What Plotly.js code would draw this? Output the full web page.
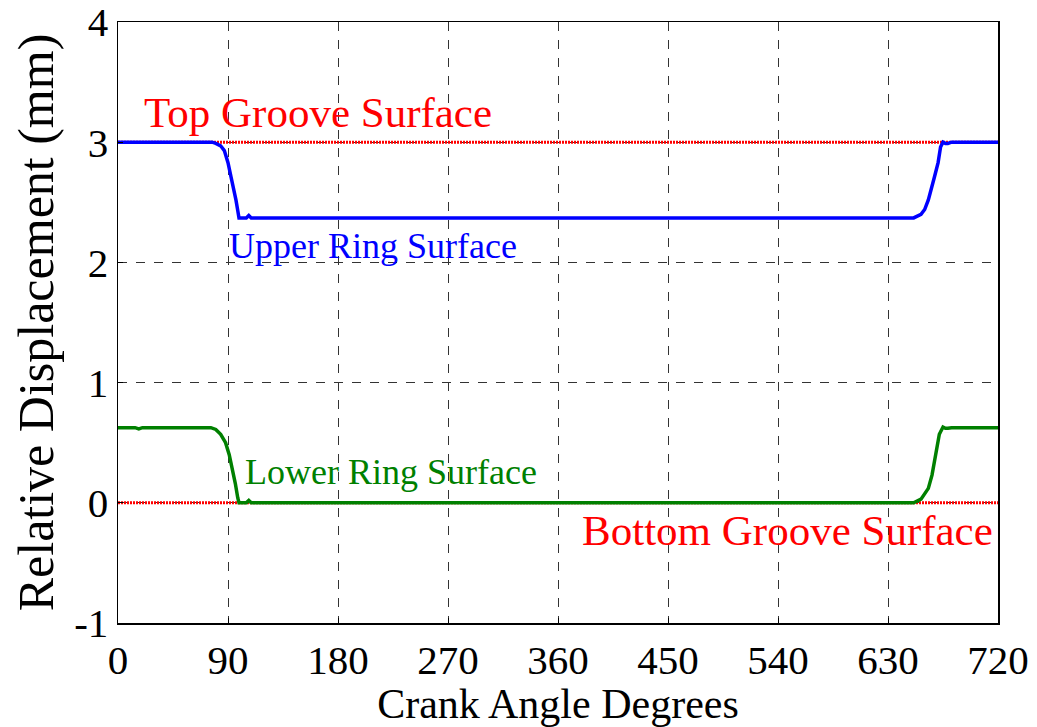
<!DOCTYPE html>
<html><head><meta charset="utf-8">
<script src="https://cdn.plot.ly/plotly-3.0.1.min.js"></script>
<style>body{margin:0;background:#fff}#c{width:1037px;height:727px}</style>
</head><body><div id="c"></div>
<script>
var grooveX = [0, 720];
var topGroove = [3, 3];
var bottomGroove = [0, 0];

var upperX = [0, 77, 80, 84, 87, 90, 92.5, 95, 96.5, 98, 99, 102, 105, 107, 109, 112, 640, 651, 657, 660, 663, 666, 668, 671, 673, 675, 677, 679, 682, 720];
var upperY = [3.0, 3.0, 2.99, 2.97, 2.93, 2.83, 2.71, 2.6, 2.52, 2.43, 2.37, 2.37, 2.37, 2.39, 2.37, 2.37, 2.37, 2.37, 2.4, 2.44, 2.52, 2.62, 2.71, 2.83, 2.96, 3.0, 2.99, 2.99, 3.0, 3.0];

var lowerX = [0, 14, 17, 20, 76, 80, 84, 88, 91, 94, 96, 98, 99, 102, 105, 107, 109, 112, 640, 651, 657, 660, 663, 666, 668, 670, 672, 675, 677, 679, 682, 720];
var lowerY = [0.625, 0.625, 0.615, 0.625, 0.625, 0.61, 0.57, 0.5, 0.4, 0.27, 0.16, 0.04, 0.0, 0.0, 0.0, 0.02, 0.0, 0.0, 0.0, 0.0, 0.03, 0.07, 0.12, 0.23, 0.35, 0.46, 0.57, 0.63, 0.62, 0.62, 0.625, 0.625];

var xTicks = [0, 90, 180, 270, 360, 450, 540, 630, 720];
var yTicks = [-1, 0, 1, 2, 3, 4];
var yTickText = ['-1', '0', '1', '2', '3', '4'];

var labels = [
  {text: 'Top Groove Surface', x: 20, y: 3.25, color: 'red', size: 43},
  {text: 'Upper Ring Surface', x: 89, y: 2.14, color: 'blue', size: 36},
  {text: 'Lower Ring Surface', x: 102, y: 0.26, color: 'green', size: 36},
  {text: 'Bottom Groove Surface', x: 378, y: -0.23, color: 'red', size: 43}
];

var font = 'Liberation Serif, Times New Roman, serif';
var traces = [
  {x: grooveX, y: topGroove, mode: 'lines', line: {color: 'red', width: 3, dash: '2px,1px'}},
  {x: grooveX, y: bottomGroove, mode: 'lines', line: {color: 'red', width: 3, dash: '2px,1px'}},
  {x: upperX, y: upperY, mode: 'lines', line: {color: 'blue', width: 3.5}},
  {x: lowerX, y: lowerY, mode: 'lines', line: {color: 'green', width: 3.5}}
];
var axisCommon = {
  showgrid: true, gridcolor: '#333', griddash: 'dash', gridwidth: 1,
  showline: true, linecolor: 'black', linewidth: 1.5, mirror: true,
  ticks: 'inside', ticklen: 5, tickcolor: 'black',
  ticklabeloverflow: 'allow',
  zeroline: false, tickfont: {family: font, size: 41, color: 'black'}
};
var layout = {
  width: 1037, height: 727,
  margin: {l: 118, r: 39, t: 22, b: 104},
  paper_bgcolor: 'white', plot_bgcolor: 'white',
  showlegend: false,
  font: {family: font, color: 'black'},
  xaxis: Object.assign({}, axisCommon, {
    range: [0, 720], tickmode: 'array', tickvals: xTicks, ticktext: xTicks.map(String),
    title: {text: 'Crank Angle Degrees', font: {family: font, size: 42}, standoff: 2}
  }),
  yaxis: Object.assign({}, axisCommon, {
    range: [-1, 4], tickmode: 'array', tickvals: yTicks, ticktext: yTickText,
    title: {text: 'Relative Displacement (mm)', font: {family: font, size: 50}, standoff: 4}
  }),
  annotations: labels.map(function (l) {
    return {text: l.text, x: l.x, y: l.y, xref: 'x', yref: 'y', showarrow: false,
      xanchor: 'left', yanchor: 'middle', font: {family: font, size: l.size, color: l.color}};
  })
};
Plotly.newPlot('c', traces, layout, {displayModeBar: false, staticPlot: true});
</script></body></html>
